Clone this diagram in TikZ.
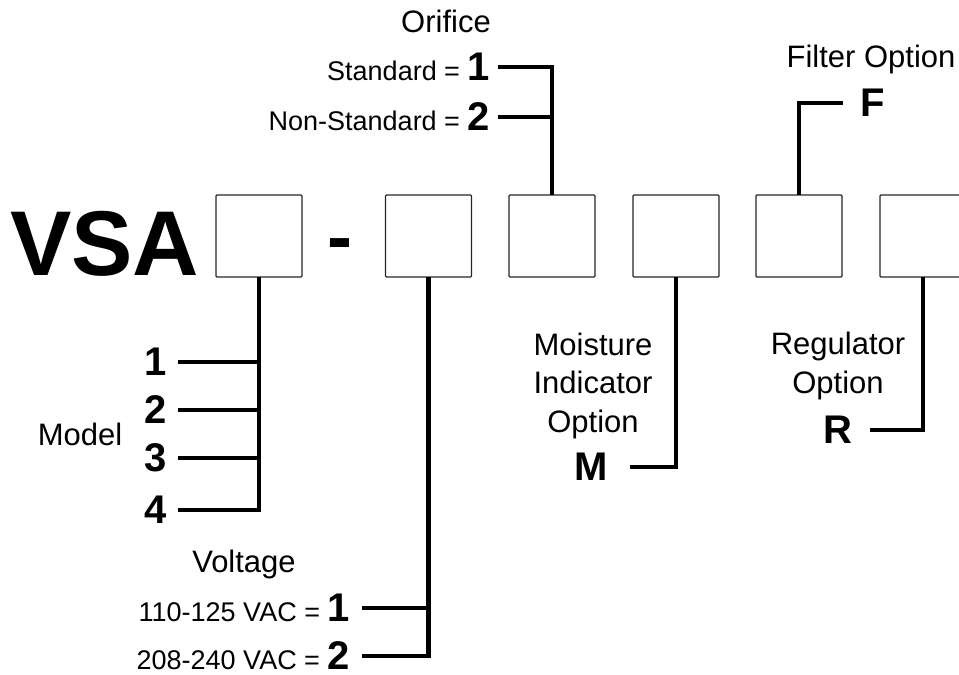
\documentclass[tikz,border=0pt]{standalone}
\usepackage{fontspec}
\setmainfont{Liberation Sans}
\usepackage{tikz}
\tikzstyle{slot}=[draw=black!85,line width=1.3pt,rounded corners=1pt,minimum width=86pt,minimum height=82pt,inner sep=0pt,outer sep=0pt]
\tikzstyle{e}=[line width=4.5pt,line join=miter]
\tikzstyle{title}=[font=\fontsize{31}{38.5}\selectfont,inner sep=0pt,align=center]
\tikzstyle{code}=[font=\fontsize{40}{42}\selectfont\bfseries,inner sep=0pt]
\tikzstyle{spec}=[font=\fontsize{27}{30}\selectfont,inner sep=0pt]
\newcommand{\pick}[1]{{\fontsize{40}{42}\selectfont\bfseries #1}}

\begin{document}
\begin{tikzpicture}[x=1pt,y=-1pt]
    \useasboundingbox (0,0) rectangle (959,675);

    \node[font=\fontsize{92}{92}\selectfont\bfseries,inner sep=0pt,anchor=base west] (vsa) at (10,275) {VSA};
    \node[font=\fontsize{75}{75}\selectfont\bfseries,inner sep=0pt,anchor=base] (dash) at (340,262) {-};

    \node[slot] (model)     at (259,236)   {};
    \node[slot] (voltage)   at (428.5,236) {};
    \node[slot] (orifice)   at (552,236)   {};
    \node[slot] (moisture)  at (676,236)   {};
    \node[slot] (filter)    at (799,236)   {};
    \node[slot] (regulator) at (923,236)   {};

    % model
    \node[title,anchor=base] (model-title) at (80,445) {Model};
    \foreach \i/\y in {1/362,2/410,3/458,4/510}
        \node[code,anchor=east] (model-\i) at (167,\y) {\i};
    \draw[e,shorten <=11pt] (model-4.east) -| (model.south);
    \foreach \i in {1,2,3}
        \draw[e,shorten <=11pt] (model-\i.east) -- (model-\i.east -| model.south);

    % voltage
    \node[title,anchor=base] (volt-title) at (244,572) {Voltage};
    \node[spec,anchor=east] (volt-1) at (350,608) {110-125 VAC = \pick{1}};
    \node[spec,anchor=east] (volt-2) at (350,656) {208-240 VAC = \pick{2}};
    \draw[e,shorten <=12pt] (volt-2.east) -| (voltage.south);
    \draw[e,shorten <=12pt] (volt-1.east) -- (volt-1.east -| voltage.south);

    % orifice
    \node[title,anchor=base] (orif-title) at (446,32) {Orifice};
    \node[spec,anchor=east] (orif-1) at (490,67)  {Standard = \pick{1}};
    \node[spec,anchor=east] (orif-2) at (490,117) {Non-Standard = \pick{2}};
    \draw[e,shorten <=8pt] (orif-1.east) -| (orifice.north);
    \draw[e,shorten <=8pt] (orif-2.east) -- (orif-2.east -| orifice.north);

    % options
    \node[title,anchor=base] (moist-title) at (593,432) {Moisture\\Indicator\\Option};
    \node[code,anchor=east] (moist-code) at (608,467) {M};
    \draw[e,shorten <=22pt] (moist-code.east) -| (moisture.south);

    \node[title,anchor=base] (filt-title) at (871,67) {Filter Option};
    \node[code,anchor=west] (filt-code) at (860,103) {F};
    \draw[e,shorten <=17pt] (filt-code.west) -| (filter.north);

    \node[title,anchor=base] (reg-title) at (838,393) {Regulator\\Option};
    \node[code,anchor=east] (reg-code) at (853,430) {R};
    \draw[e,shorten <=17pt] (reg-code.east) -| (regulator.south);
\end{tikzpicture}
\end{document}
